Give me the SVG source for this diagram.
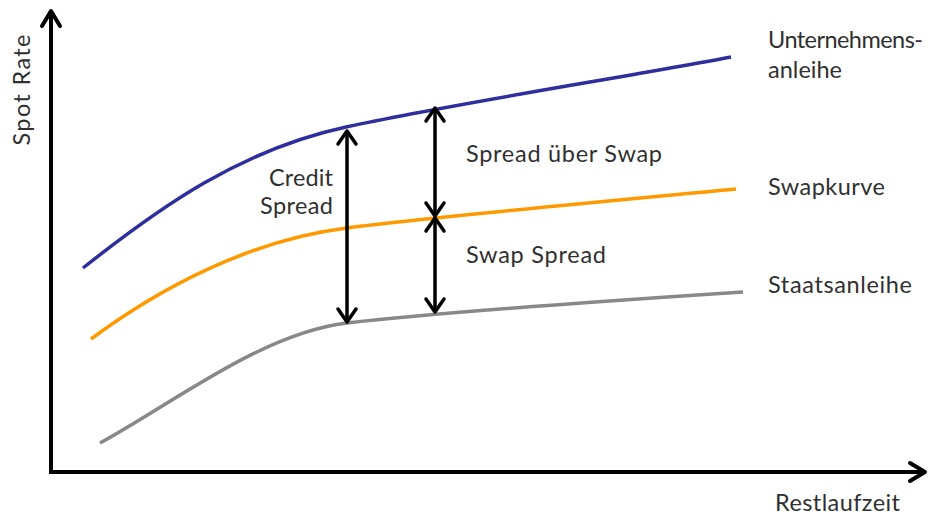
<svg xmlns="http://www.w3.org/2000/svg" width="934" height="515" viewBox="0 0 934 515">
  <style>
    .lbl { font-family: Lato, "Open Sans", "DejaVu Sans", sans-serif; font-size: 23.5px; fill: #303030; }
    .axis { stroke: #000; stroke-width: 4; fill: none; }
    .curve { fill: none; stroke-width: 3.5; stroke-linecap: butt; }
    .dbl { stroke: #000; stroke-width: 3.5; fill: none; }
  </style>
  <defs>
    <marker id="head" markerUnits="userSpaceOnUse" markerWidth="24" markerHeight="24" viewBox="-12 -12 24 24" refX="0" refY="0" orient="auto-start-reverse" overflow="visible">
      <path d="M-13,-9 L0,0 L-13,9" fill="none" stroke="#000" stroke-width="3.5" stroke-linecap="round" stroke-linejoin="round"/>
    </marker>
    <marker id="axhead" markerUnits="userSpaceOnUse" markerWidth="24" markerHeight="24" viewBox="-12 -12 24 24" refX="0" refY="0" orient="auto" overflow="visible">
      <path d="M-15,-9 L0,0 L-15,9" fill="none" stroke="#000" stroke-width="4" stroke-linecap="round" stroke-linejoin="round"/>
    </marker>
  </defs>
  <rect width="934" height="515" fill="#fff"/>

  <g id="axes">
    <line class="axis" x1="51" y1="472" x2="51" y2="11" marker-end="url(#axhead)"/>
    <line class="axis" x1="49" y1="472" x2="925" y2="472" marker-end="url(#axhead)"/>
    <text class="lbl" transform="translate(30,90) rotate(-90)" text-anchor="middle" textLength="111" lengthAdjust="spacing">Spot Rate</text>
    <text class="lbl" x="775" y="511" textLength="125" lengthAdjust="spacing">Restlaufzeit</text>
  </g>

  <g id="unternehmensanleihe">
    <path class="curve" stroke="#2e2e9c" d="M83,268 C160,207 240,150 346,127 C452,104 620,78 731,57"/>
    <text class="lbl" x="768" y="48" textLength="155" lengthAdjust="spacing">Unternehmens-</text>
    <text class="lbl" x="768" y="78" textLength="74" lengthAdjust="spacing">anleihe</text>
  </g>

  <g id="swapkurve">
    <path class="curve" stroke="#ff9900" d="M91,339 C160,288 250,240 347,228 C444,216 620,200 736,189"/>
    <text class="lbl" x="768" y="195" textLength="117" lengthAdjust="spacing">Swapkurve</text>
  </g>

  <g id="staatsanleihe">
    <path class="curve" stroke="#888888" d="M100,443 C172,404 262,333 347,323 C432,313 620,300 743,292"/>
    <text class="lbl" x="768" y="293" textLength="144" lengthAdjust="spacing">Staatsanleihe</text>
  </g>

  <g id="connectors">
    <line class="dbl" x1="347" y1="131" x2="347" y2="322" marker-start="url(#head)" marker-end="url(#head)"/>
    <line class="dbl" x1="435" y1="108" x2="435" y2="216" marker-start="url(#head)" marker-end="url(#head)"/>
    <line class="dbl" x1="435" y1="218" x2="435" y2="312" marker-start="url(#head)" marker-end="url(#head)"/>
  </g>

  <g id="labels">
    <text class="lbl" x="333" y="186" text-anchor="end" textLength="64" lengthAdjust="spacing">Credit</text>
    <text class="lbl" x="333" y="214" text-anchor="end" textLength="73" lengthAdjust="spacing">Spread</text>
    <text class="lbl" x="466" y="162" textLength="196" lengthAdjust="spacing">Spread über Swap</text>
    <text class="lbl" x="466" y="263" textLength="140" lengthAdjust="spacing">Swap Spread</text>
  </g>
</svg>
